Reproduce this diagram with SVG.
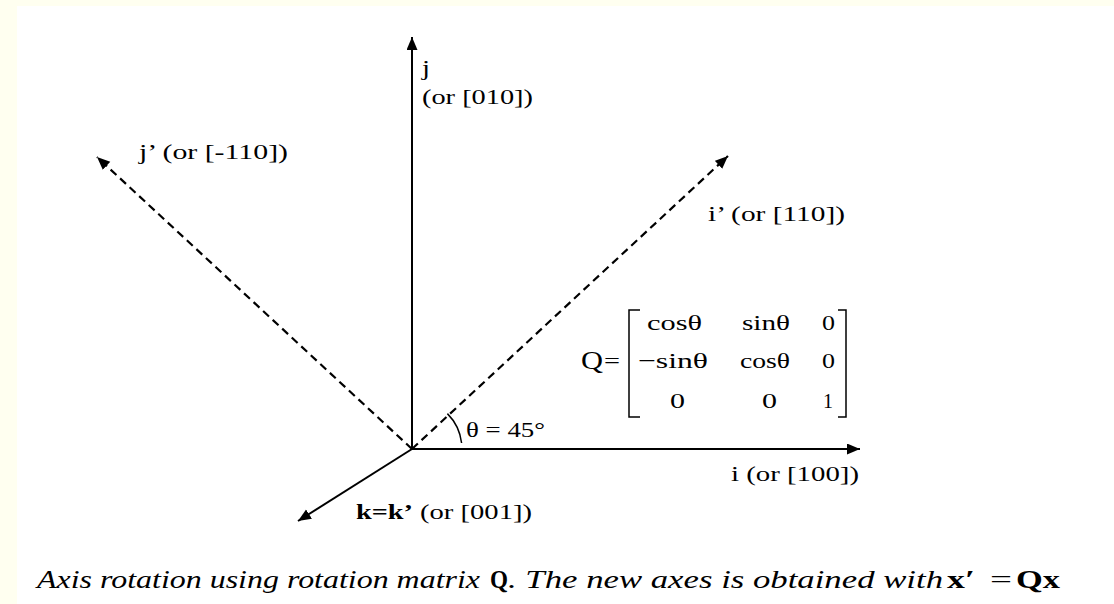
<svg xmlns="http://www.w3.org/2000/svg" width="1114" height="604" viewBox="0 0 1114 604">
  <style>
    .t { font-family: "Liberation Serif", "Times New Roman", serif; font-size: 22px; fill: #000; }
    .b { font-weight: bold; }
    .it { font-style: italic; }
    .cap { font-size: 25px; }
    .axis { stroke: #000; stroke-width: 2; fill: none; }
    .dash { stroke: #000; stroke-width: 2.2; fill: none; stroke-dasharray: 8 5; }
    .thin { stroke: #000; stroke-width: 1.5; fill: none; }
  </style>
  <defs>
    <marker id="arrow" markerUnits="userSpaceOnUse" markerWidth="14" markerHeight="12" refX="13" refY="5.5" orient="auto">
      <path d="M0,0 L13,5.5 L0,11 z" fill="#000"/>
    </marker>
  </defs>
  <rect x="0" y="0" width="1114" height="604" fill="#FFFFF0"/>
  <rect x="17" y="6" width="1097" height="598" fill="#FFFFFF"/>

  <g id="connectors">
    <path class="axis" d="M412,449 L412,37" marker-end="url(#arrow)"/>
    <path class="axis" d="M412,449 L860,449" marker-end="url(#arrow)"/>
    <path class="axis" d="M412,449 L298,521" marker-end="url(#arrow)"/>
    <path class="dash" d="M412,449 L728,156" marker-end="url(#arrow)"/>
    <path class="dash" d="M412,449 L97,157" marker-end="url(#arrow)"/>
    <path class="thin" d="M461.6,443 A50,50 0 0 0 447.4,413.6"/>
  </g>

  <g id="label-j">
    <text class="t" x="422" y="75" textLength="8" lengthAdjust="spacingAndGlyphs">j</text>
    <text class="t" x="422" y="104" textLength="111" lengthAdjust="spacingAndGlyphs">(or [010])</text>
  </g>
  <g id="label-jprime">
    <text class="t" x="139" y="159" textLength="149" lengthAdjust="spacingAndGlyphs">j’ (or [-110])</text>
  </g>
  <g id="label-iprime">
    <text class="t" x="708" y="221" textLength="137" lengthAdjust="spacingAndGlyphs">i’ (or [110])</text>
  </g>
  <g id="label-i">
    <text class="t" x="731" y="481" textLength="128" lengthAdjust="spacingAndGlyphs">i (or [100])</text>
  </g>
  <g id="label-k">
    <text class="t b" x="356" y="519" textLength="57" lengthAdjust="spacingAndGlyphs">k=k’</text>
    <text class="t" x="420" y="519" textLength="112" lengthAdjust="spacingAndGlyphs">(or [001])</text>
  </g>
  <g id="label-theta">
    <text class="t" x="466" y="437" textLength="79" lengthAdjust="spacingAndGlyphs">θ = 45°</text>
  </g>

  <g id="matrix">
    <text class="t" x="581" y="369" textLength="22" lengthAdjust="spacingAndGlyphs" style="font-size:25px">Q</text>
    <text class="t" x="604" y="368" textLength="16" lengthAdjust="spacingAndGlyphs">=</text>
    <path class="thin" d="M640,310 L629,310 L629,417 L640,417"/>
    <path class="thin" d="M838,310 L846,310 L846,417 L838,417"/>
    <text class="t" x="647" y="330" textLength="55" lengthAdjust="spacingAndGlyphs">cosθ</text>
    <text class="t" x="742" y="330" textLength="48" lengthAdjust="spacingAndGlyphs">sinθ</text>
    <text class="t" x="822" y="330" textLength="13" lengthAdjust="spacingAndGlyphs">0</text>
    <text class="t" x="638" y="368" textLength="70" lengthAdjust="spacingAndGlyphs">−sinθ</text>
    <text class="t" x="740" y="368" textLength="50" lengthAdjust="spacingAndGlyphs">cosθ</text>
    <text class="t" x="822" y="368" textLength="13" lengthAdjust="spacingAndGlyphs">0</text>
    <text class="t" x="670" y="408" textLength="15" lengthAdjust="spacingAndGlyphs">0</text>
    <text class="t" x="762" y="408" textLength="15" lengthAdjust="spacingAndGlyphs">0</text>
    <text class="t" x="823" y="408" textLength="10" lengthAdjust="spacingAndGlyphs">1</text>
  </g>

  <g id="caption">
    <text class="t cap it" x="37" y="588" textLength="443" lengthAdjust="spacingAndGlyphs">Axis rotation using rotation matrix</text>
    <text class="t cap b" x="490" y="588" textLength="18" lengthAdjust="spacingAndGlyphs">Q</text>
    <text class="t cap it" x="508" y="588" textLength="435" lengthAdjust="spacingAndGlyphs">. The new axes is obtained with</text>
    <text class="t cap b" x="947" y="588" textLength="28" lengthAdjust="spacingAndGlyphs">x′</text>
    <text class="t cap" x="990" y="588" textLength="22" lengthAdjust="spacingAndGlyphs">=</text>
    <text class="t cap b" x="1016" y="588" textLength="44" lengthAdjust="spacingAndGlyphs">Qx</text>
  </g>
</svg>
